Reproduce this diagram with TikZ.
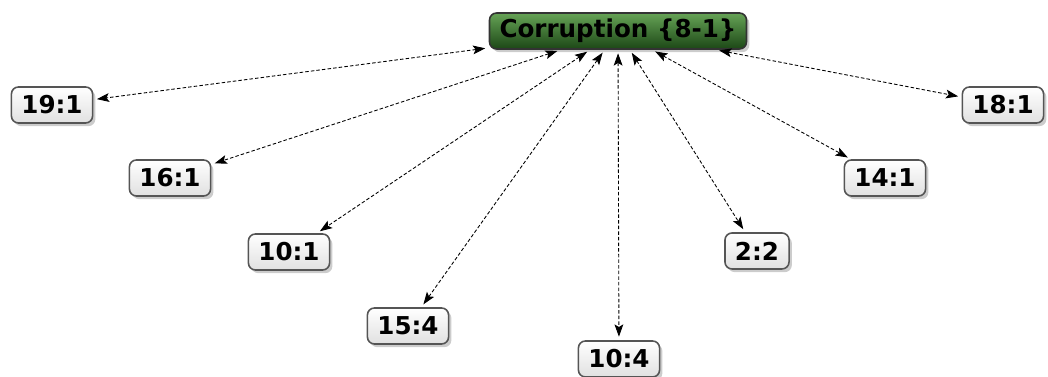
\documentclass[tikz,border=0pt]{standalone}
\usepackage{fontspec}
\setmainfont{DejaVu Sans}
\usetikzlibrary{shadows,arrows.meta}

\definecolor{topgreen}{HTML}{66A356}
\definecolor{botgreen}{HTML}{1C4716}
\definecolor{boxline}{HTML}{555555}

\tikzset{
  leaf/.style={rounded corners=4pt,draw=boxline,line width=0.9pt,
    top color=white,bottom color=black!12,
    minimum height=0.72cm,inner xsep=0.2cm,
    font=\fontsize{14}{16}\selectfont\bfseries,
    drop shadow={shadow xshift=1.6pt,shadow yshift=-1.8pt,opacity=0.4}},
  topic/.style={leaf,top color=topgreen,bottom color=botgreen,draw=black!80},
  link/.style={draw,dash pattern=on 2pt off 1.2pt,line width=0.5pt,
    {Stealth[length=7pt,width=5pt,inset=1.5pt]}-{Stealth[length=7pt,width=5pt,inset=1.5pt]},
    shorten <=2pt,shorten >=2pt}
}

\begin{document}
\begin{tikzpicture}[x=0.02cm,y=-0.02cm]

      \useasboundingbox (0,0) rectangle (1048,377);

      \node[topic] (root) at (618,31) {Corruption \{8-1\}};

      \begin{scope}[every node/.style={leaf}]
        \node (n19) at (52,105)   {19:1};
        \node (n16) at (170,178)  {16:1};
        \node (n10a) at (289,252) {10:1};
        \node (n15) at (408,326)  {15:4};
        \node (n10b) at (619,359) {10:4};
        \node (n2)  at (757,251)  {2:2};
        \node (n14) at (885,178)  {14:1};
        \node (n18) at (1003,105) {18:1};
      \end{scope}

      \begin{scope}[every edge/.style={link}]
        \path (root) edge (n19);
        \path (root) edge (n16);
        \path (root) edge (n10a);
        \path (root) edge (n15);
        \path (root) edge (n10b);
        \path (root) edge (n2);
        \path (root) edge (n14);
        \path (root) edge (n18);
      \end{scope}

    \end{tikzpicture}
\end{document}
